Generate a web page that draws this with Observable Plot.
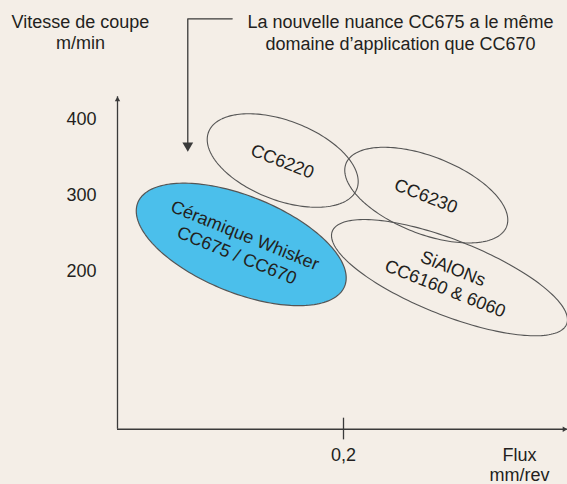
<!DOCTYPE html>
<html><head><meta charset="utf-8">
<script src="https://cdn.jsdelivr.net/npm/d3@7"></script>
<script src="https://cdn.jsdelivr.net/npm/@observablehq/plot@0.6"></script>
<style>
html,body{margin:0;padding:0;background:#f4eee7;}
</style></head><body><div id="chart"></div>
<script>
// Application domains of the grades: major-axis end points (flux mm/rev, speed m/min)
const grades = ["Céramique Whisker\nCC675 / CC670", "CC6220", "CC6230", "SiAlONs\nCC6160 & 6060"];
const highlighted = [true, false, false, false];
const fluxStart = [0.018, 0.0806, 0.2022, 0.1901];
const speedStart = [290.8, 383.6, 342.1, 253.2];
const fluxEnd = [0.201, 0.2118, 0.3443, 0.3975];
const speedEnd = [180.9, 308.6, 259.2, 131.1];
const widthRatio = [0.433, 0.5, 0.448, 0.298];

const yTicks = [200, 300, 400];
const xTicks = [0.2];
const xTickLabels = ["0,2"];
const yTitle = "Vitesse de coupe\nm/min";
const xTitle = "Flux\nmm/rev";
const note = "La nouvelle nuance CC675 a le même\ndomaine d’application que CC670";

// scale set-up (shared with Plot)
const xDomain = [0, 0.2], xRange = [117, 343];
const yDomain = [200, 400], yRange = [271.2, 119];
const xs = d3.scaleLinear(xDomain, xRange), ys = d3.scaleLinear(yDomain, yRange);

const outline = [], labels = [];
grades.forEach((g, i) => {
  const x1 = xs(fluxStart[i]), y1 = ys(speedStart[i]), x2 = xs(fluxEnd[i]), y2 = ys(speedEnd[i]);
  const cx = (x1 + x2) / 2, cy = (y1 + y2) / 2;
  const a = Math.hypot(x2 - x1, y2 - y1) / 2, b = a * widthRatio[i];
  const th = Math.atan2(y2 - y1, x2 - x1);
  const N = 180;
  for (let k = 0; k < N; k++) {
    const t = 2 * Math.PI * k / N;
    const px = cx + a * Math.cos(t) * Math.cos(th) - b * Math.sin(t) * Math.sin(th);
    const py = cy + a * Math.cos(t) * Math.sin(th) + b * Math.sin(t) * Math.cos(th);
    outline.push({grade: g, hi: highlighted[i], x: xs.invert(px), y: ys.invert(py)});
  }
  labels.push({grade: g, x: (fluxStart[i] + fluxEnd[i]) / 2, y: (speedStart[i] + speedEnd[i]) / 2, angle: th * 180 / Math.PI});
});

const ink = "#231f20", line = "#3a3a3a";
const axisMinY = -7, axisMaxY = 430, axisMaxX = 0.398;

const chart = Plot.plot({
  width: 567, height: 484,
  marginLeft: 117, marginBottom: 55.3, marginTop: 0, marginRight: 0,
  x: {domain: xDomain, range: xRange},
  y: {domain: yDomain, range: yRange},
  style: {fontFamily: "'Liberation Sans', Arial, sans-serif", fontSize: "18px", background: "#f4eee7", color: ink},
  marks: [
    Plot.line(outline.filter(d => d.hi), {x: "x", y: "y", z: "grade", curve: "linear-closed", fill: "#4bbfeb", stroke: "#555", strokeWidth: 1.2}),
    Plot.line(outline.filter(d => !d.hi), {x: "x", y: "y", z: "grade", curve: "linear-closed", fill: "none", stroke: "#555", strokeWidth: 1.1}),
    Plot.text(labels, {x: "x", y: "y", text: "grade", rotate: "angle", fontSize: 18, lineHeight: 1.2, fill: ink}),
    // axes
    Plot.ruleX([0], {y1: axisMinY, y2: axisMaxY, stroke: line, strokeWidth: 1.3}),
    Plot.ruleY([axisMinY], {x1: 0, x2: axisMaxX, stroke: line, strokeWidth: 1.3}),
    Plot.dot([0], {x: d => d, y: axisMaxY, symbol: "triangle", r: 2, fill: line, stroke: null, dy: 3}),
    Plot.dot([axisMaxX], {x: d => d, y: axisMinY, symbol: "triangle", rotate: 90, r: 2, fill: line, stroke: null, dx: -3}),
    Plot.ruleX(xTicks, {y1: 7.5, y2: -21, stroke: line, strokeWidth: 1.3}),
    Plot.axisY({ticks: yTicks, tickSize: 0, tickPadding: 21, label: null, fontSize: 18}),
    Plot.axisX({ticks: xTicks, tickSize: 0, tickPadding: 19.5, tickFormat: (d, i) => xTickLabels[i], label: null, fontSize: 18}),
    // titles
    Plot.text([yTitle], {frameAnchor: "top-left", lineAnchor: "middle", dx: -37, dy: 31, text: d => d, textAnchor: "middle", lineHeight: 1.2, fill: ink}),
    Plot.text([xTitle], {frameAnchor: "bottom-left", lineAnchor: "middle", dx: 402, dy: 35.6, text: d => d, textAnchor: "middle", lineHeight: 1.1, fill: ink}),
    // annotation
    Plot.line([[0.1015, 532.3], [0.0622, 532.3], [0.0622, 362]], {x: d => d[0], y: d => d[1], stroke: line, strokeWidth: 1.3}),
    Plot.dot([[0.0622, 357.9]], {x: d => d[0], y: d => d[1], symbol: "triangle", rotate: 180, r: 4, fill: line, stroke: null, dy: -6}),
    Plot.text([note], {frameAnchor: "top-left", lineAnchor: "middle", dx: 283, dy: 31.5, text: d => d, textAnchor: "middle", lineHeight: 1.2, fill: ink})
  ]
});
document.getElementById("chart").appendChild(chart);
</script></body></html>
